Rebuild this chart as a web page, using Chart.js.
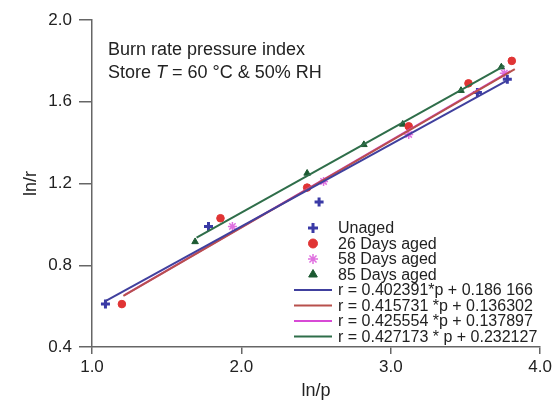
<!DOCTYPE html>
<html>
<head>
<meta charset="utf-8">
<script src="https://cdn.jsdelivr.net/npm/chart.js@4/dist/chart.umd.min.js"></script>
<style>
  html, body { margin: 0; padding: 0; background: #fff; }
  #wrap { width: 555px; height: 407px; }
</style>
</head>
<body>
<div id="wrap"><canvas id="burnChart" width="555" height="407"></canvas></div>
<script>
// measured points (ln p, ln r)
const unagedP = [1.09, 1.78, 2.52, 3.58, 3.78];
const unagedR = [0.61, 0.99, 1.11, 1.645, 1.71];
const aged26P = [1.20, 1.86, 2.44, 3.12, 3.52, 3.81];
const aged26R = [0.61, 1.03, 1.18, 1.48, 1.69, 1.80];
const aged58P = [1.94, 2.55, 3.12, 3.76];
const aged58R = [0.99, 1.21, 1.44, 1.74];
const aged85P = [1.69, 2.44, 2.82, 3.08, 3.47, 3.74];
const aged85R = [0.915, 1.25, 1.39, 1.49, 1.655, 1.77];

// fitted line end points
const fitUnagedP = [1.09, 3.78];
const fitUnagedR = [0.625, 1.705];
const fit26P = [1.21, 3.83];
const fit26R = [0.65, 1.76];
const fit58P = [1.22, 3.80];
const fit58R = [0.655, 1.75];
const fit85P = [1.70, 3.76];
const fit85R = [0.935, 1.775];

const seriesNames = ["Unaged", "26 Days aged", "58 Days aged", "85 Days aged"];
const fitNames = [
  "r = 0.402391*p + 0.186 166",
  "r = 0.415731 *p + 0.136302",
  "r = 0.425554 *p + 0.137897",
  "r = 0.427173 * p + 0.232127"
];
const xTicks = [1.0, 2.0, 3.0, 4.0];
const yTicks = [0.4, 0.8, 1.2, 1.6, 2.0];

const pts = (xs, ys) => xs.map((x, i) => ({ x: x, y: ys[i] }));

const markerColors = ["#3a3aa6", "#e03434", "#e070e0", "#1c5a32"];
const markerStyles = ["cross", "circle", "star", "triangle"];
const lineColors = ["#40409e", "#b8504c", "#d84ad6", "#2f6e4a"];

const fitLine = (label, xs, ys, color) => ({
  label: label,
  data: pts(xs, ys),
  showLine: true,
  borderColor: color,
  borderWidth: 2,
  pointRadius: 0,
  fill: false
});

const scatterSet = (label, xs, ys, i) => ({
  label: label,
  data: pts(xs, ys),
  showLine: false,
  pointStyle: markerStyles[i],
  pointRadius: i === 0 ? 4.5 : (i === 2 ? 4.5 : 3.8),
  pointBorderWidth: i === 0 ? 3 : (i === 2 ? 1.5 : 1),
  pointBorderColor: markerColors[i],
  pointBackgroundColor: markerColors[i],
  borderColor: markerColors[i],
  backgroundColor: markerColors[i]
});

const datasets = [
  fitLine(fitNames[0], fitUnagedP, fitUnagedR, lineColors[0]),
  fitLine(fitNames[1], fit26P, fit26R, lineColors[1]),
  fitLine(fitNames[2], fit58P, fit58R, lineColors[2]),
  fitLine(fitNames[3], fit85P, fit85R, lineColors[3]),
  scatterSet(seriesNames[0], unagedP, unagedR, 0),
  scatterSet(seriesNames[1], aged26P, aged26R, 1),
  scatterSet(seriesNames[2], aged58P, aged58R, 2),
  scatterSet(seriesNames[3], aged85P, aged85R, 3)
];

const FONT = "'Liberation Sans', Arial, Helvetica, sans-serif";

// text box in the upper left and legend in the lower right
const overlayPlugin = {
  id: "overlay",
  afterDraw(chart) {
    const ctx = chart.ctx;
    ctx.save();
    ctx.fillStyle = "#222";
    ctx.textBaseline = "alphabetic";
    ctx.textAlign = "left";
    ctx.font = "18px " + FONT;
    ctx.fillText("Burn rate pressure index", 108, 55);
    let x = 108;
    const parts = [["Store ", "18px "], ["T", "italic 18px "], [" = 60 °C & 50% RH", "18px "]];
    parts.forEach(([t, f]) => {
      ctx.font = f + FONT;
      ctx.fillText(t, x, 78);
      x += ctx.measureText(t).width;
    });

    // legend
    ctx.font = "16px " + FONT;
    ctx.textBaseline = "middle";
    const rowY = 228, rowH = 15.5, markX = 313, textX = 338;
    seriesNames.forEach((name, i) => {
      const y = rowY + i * rowH;
      ctx.fillStyle = markerColors[i];
      ctx.strokeStyle = markerColors[i];
      ctx.lineWidth = i === 0 ? 3 : (i === 2 ? 1.5 : 1);
      Chart.helpers.drawPoint(ctx, { pointStyle: markerStyles[i], radius: i === 1 ? 4.5 : 5, borderWidth: ctx.lineWidth }, markX, y);
      ctx.fillStyle = "#222";
      ctx.fillText(name, textX, y + 1);
    });
    fitNames.forEach((name, i) => {
      const y = rowY + (i + 4) * rowH;
      ctx.strokeStyle = lineColors[i];
      ctx.lineWidth = 2;
      ctx.beginPath();
      ctx.moveTo(294, y);
      ctx.lineTo(332, y);
      ctx.stroke();
      ctx.fillStyle = "#222";
      ctx.fillText(name, textX, y + 1);
    });
    ctx.restore();
  }
};

const ctx = document.getElementById("burnChart").getContext("2d");
new Chart(ctx, {
  type: "scatter",
  data: { datasets: datasets },
  options: {
    responsive: false,
    animation: false,
    layout: { padding: { top: 20, right: 14, left: 0, bottom: 0 } },
    plugins: {
      legend: { display: false },
      tooltip: { enabled: false }
    },
    scales: {
      x: {
        type: "linear",
        min: 1.0,
        max: 4.0,
        afterBuildTicks: (scale) => { scale.ticks = xTicks.map(v => ({ value: v })); },
        afterFit: (scale) => { scale.height = 60; },
        ticks: {
          callback: (v) => v.toFixed(1),
          color: "#222",
          font: { family: FONT, size: 17 },
          padding: 3
        },
        grid: { drawOnChartArea: false, tickLength: 7, color: "#666", lineWidth: 1.5 },
        border: { color: "#666", width: 1.5 },
        title: {
          display: true,
          text: "ln/p",
          color: "#222",
          font: { family: FONT, size: 18 },
          padding: { top: 2, bottom: 5 }
        }
      },
      y: {
        type: "linear",
        min: 0.4,
        max: 2.0,
        afterBuildTicks: (scale) => { scale.ticks = yTicks.map(v => ({ value: v })); },
        afterFit: (scale) => { scale.width = 92; },
        ticks: {
          callback: (v) => v.toFixed(1),
          color: "#222",
          font: { family: FONT, size: 17 },
          padding: 7
        },
        grid: { drawOnChartArea: false, tickLength: 13, color: "#666", lineWidth: 1.5 },
        border: { color: "#666", width: 1.5 },
        title: {
          display: true,
          text: "ln/r",
          color: "#222",
          font: { family: FONT, size: 18 },
          padding: { top: 20, bottom: 0 }
        }
      }
    }
  },
  plugins: [overlayPlugin]
});
</script>
</body>
</html>
